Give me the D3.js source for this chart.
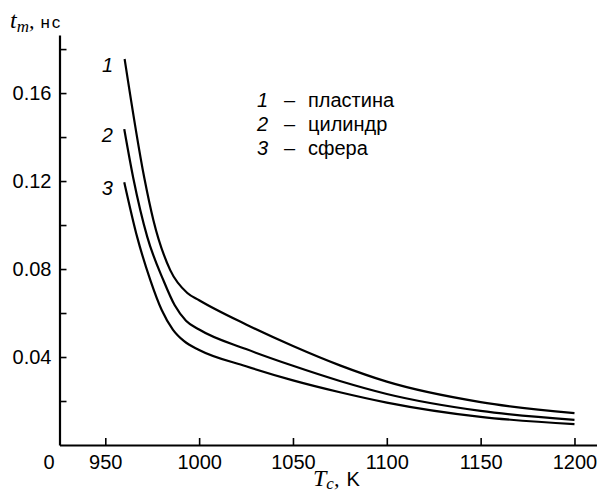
<!doctype html>
<html lang="ru">
<head>
  <meta charset="utf-8">
  <title>t_m(T_c)</title>
  <script src="https://d3js.org/d3.v7.min.js" charset="utf-8"></script>
</head>
<body style="margin:0;background:#fff">
<style>
.chart text {
  font-family: "Liberation Sans", Arial, sans-serif;
  font-size: 20px;
  fill: #000;
}
.chart .math {
  font-family: "Liberation Serif", "DejaVu Serif", serif;
  font-style: italic;
}
.chart .num {
  font-style: italic;
}
</style>
<svg class="chart"></svg>
<script>
// values
var tPlate    = [960.3, 970.8, 975.6, 984.6, 993.7, 1000, 1025, 1050, 1075, 1100, 1150, 1200];
var vPlate    = [0.1755, 0.1214, 0.1023, 0.0795, 0.0691, 0.0658, 0.0548, 0.0450, 0.0362, 0.0288, 0.0195, 0.0145];
var tCylinder = [960.1, 964.9, 972.4, 980.9, 987, 993, 1000, 1025, 1050, 1075, 1100, 1150, 1200];
var vCylinder = [0.1436, 0.1214, 0.0945, 0.0750, 0.0635, 0.0565, 0.0525, 0.0436, 0.0360, 0.0291, 0.0232, 0.0155, 0.0114];
var tSphere   = [960.1, 967, 974, 980, 986, 992, 1000, 1025, 1050, 1075, 1100, 1150, 1200];
var vSphere   = [0.1195, 0.0945, 0.0750, 0.0615, 0.0525, 0.0472, 0.0432, 0.0358, 0.0294, 0.0240, 0.0193, 0.0128, 0.0095];

var seriesNums  = ["1", "2", "3"];
var seriesNames = ["пластина", "цилиндр", "сфера"];

var xTicks = [950, 1000, 1050, 1100, 1150, 1200];
var yTicks = [0.02, 0.04, 0.06, 0.08, 0.10, 0.12, 0.14, 0.16, 0.18];
var yLabelled = [0.04, 0.08, 0.12, 0.16];

var width = 597, height = 493;

var svg = d3.select(".chart")
  .attr("width", width)
  .attr("height", height);

var x = d3.scaleLinear().domain([925.6, 1212]).range([59.5, 597]);
var y = d3.scaleLinear().domain([0, 0.1864]).range([445, 35]);

// axes, ticks point inward
var xAxis = d3.axisBottom(x)
  .tickValues(xTicks)
  .tickSizeInner(-7)
  .tickSizeOuter(0)
  .tickPadding(10)
  .tickFormat(d3.format("d"));

var yAxis = d3.axisLeft(y)
  .tickValues(yTicks)
  .tickSizeInner(-7)
  .tickSizeOuter(0)
  .tickPadding(8)
  .tickFormat(function(d) {
    return yLabelled.some(function(v) { return Math.abs(v - d) < 1e-9; }) ? d3.format(".2f")(d) : "";
  });

var gx = svg.append("g")
  .attr("transform", "translate(0," + y(0) + ")")
  .call(xAxis);
var gy = svg.append("g")
  .attr("transform", "translate(" + x.range()[0] + ",0)")
  .call(yAxis);

[gx, gy].forEach(function(g) {
  g.attr("font-family", null).attr("font-size", null);
  g.select(".domain").attr("stroke", "#000").attr("stroke-width", 2.2);
  g.selectAll(".tick line").attr("stroke", "#000").attr("stroke-width", 1.6);
});

// origin label
svg.append("text")
  .attr("x", 49)
  .attr("y", y(0) + 24)
  .attr("text-anchor", "middle")
  .text("0");

// curves
var series = [
  { t: tPlate, v: vPlate },
  { t: tCylinder, v: vCylinder },
  { t: tSphere, v: vSphere }
];

var line = d3.line()
  .x(function(d) { return x(d[0]); })
  .y(function(d) { return y(d[1]); })
  .curve(d3.curveMonotoneX);

series.forEach(function(s, i) {
  var pts = s.t.map(function(t, j) { return [t, s.v[j]]; });
  svg.append("path")
    .datum(pts)
    .attr("d", line)
    .attr("fill", "none")
    .attr("stroke", "#000")
    .attr("stroke-width", 2.2);

  // curve number beside its start
  svg.append("text")
    .attr("class", "num")
    .attr("x", x(s.t[0]) - 17)
    .attr("y", y(s.v[0]) + 13)
    .attr("text-anchor", "middle")
    .text(seriesNums[i]);
});

// legend
seriesNames.forEach(function(name, i) {
  var by = 107 + i * 24;
  svg.append("text").attr("class", "num").attr("x", 257).attr("y", by).text(seriesNums[i]);
  svg.append("text").attr("x", 284).attr("y", by).text("–");
  svg.append("text").attr("x", 308).attr("y", by).text(name);
});

// y label: t_m, нс
var yl = svg.append("text").attr("x", 10).attr("y", 28);
yl.append("tspan").attr("class", "math").style("font-size", "24px").text("t");
yl.append("tspan").attr("class", "math").style("font-size", "17px").attr("dy", 4).text("m");
yl.append("tspan").attr("class", "math").style("font-size", "22px").attr("dy", -4).text(",");
yl.append("tspan").style("font-size", "17px").style("letter-spacing", "2px").attr("dx", 6).text("нс");

// x label: T_c, K
var xl = svg.append("text").attr("x", 313).attr("y", 486);
xl.append("tspan").attr("class", "math").style("font-size", "24px").text("T");
xl.append("tspan").attr("class", "math").style("font-size", "17px").attr("dy", 3).text("c");
xl.append("tspan").attr("class", "math").style("font-size", "22px").attr("dy", -3).text(",");
xl.append("tspan").attr("dx", 7).text("K");
</script>
</body>
</html>
